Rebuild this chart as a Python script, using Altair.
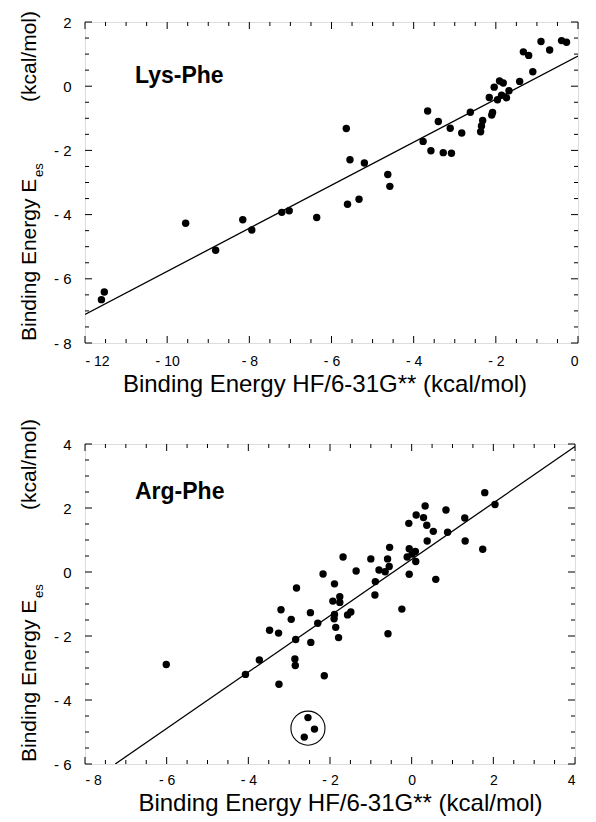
import altair as alt
import pandas as pd

FONT = "Liberation Sans"

# ---- Lys-Phe panel data ----
lys_x = [-11.60, -11.53, -9.55, -8.82, -8.16, -7.94, -7.21, -7.03, -6.36, -5.61,
         -5.33, -4.58, -4.63, -5.64, -5.55, -5.20, -3.77, -3.66, -3.58, -3.40,
         -3.28, -3.08, -3.11, -2.83, -2.62, -2.37, -2.35, -2.32, -2.16, -2.10,
         -2.08, -2.04, -1.96, -1.91, -1.82, -1.86, -1.74, -1.68, -1.42, -1.33,
         -1.20, -1.10, -0.90, -0.69, -0.40, -0.28]
lys_y = [-6.65, -6.41, -4.27, -5.11, -4.16, -4.48, -3.93, -3.88, -4.09, -3.68,
         -3.52, -3.12, -2.75, -1.32, -2.29, -2.39, -1.72, -0.77, -2.01, -1.10,
         -2.07, -2.09, -1.31, -1.46, -0.81, -1.42, -1.24, -1.07, -0.35, -0.90,
         -0.82, -0.03, -0.42, 0.16, 0.10, -0.28, -0.36, -0.14, 0.15, 1.07,
         0.96, 0.45, 1.39, 1.13, 1.42, 1.37]
lys_fit_x = [-12.0, 0.0]
lys_fit_y = [-7.11, 0.94]

# ---- Arg-Phe panel data ----
arg_x = [1.79, 2.04, 0.33, 0.84, 0.11, 0.29, -0.07, 0.37, 0.53, 0.88,
         1.30, 1.31, 0.38, 1.74, -0.54, -0.06, 0.09, 0.01, -0.11, 0.10,
         -1.00, -0.59, -1.68, -1.36, -0.80, -0.55, -0.65, -0.06, -2.17, -1.89,
         -0.89, 0.59, -2.82, -0.90, -1.76, -1.93, -1.76, -3.20, -2.48, -1.49,
         -1.57, -1.89, -1.90, -2.95, -2.30, -0.24, -1.86, -3.48, -3.26, -0.58,
         -1.79, -2.84, -2.47, -3.73, -2.86, -2.85, -6.01, -4.07, -2.14, -3.25,
         -2.54, -2.38, -2.63]
arg_y = [2.48, 2.11, 2.06, 1.94, 1.78, 1.70, 1.52, 1.46, 1.27, 1.24,
         1.69, 0.97, 0.97, 0.71, 0.77, 0.73, 0.64, 0.56, 0.47, 0.33,
         0.41, 0.41, 0.47, 0.03, 0.06, 0.17, 0.01, -0.07, -0.06, -0.37,
         -0.30, -0.23, -0.50, -0.72, -0.77, -0.91, -0.95, -1.18, -1.27, -1.25,
         -1.34, -1.33, -1.46, -1.48, -1.60, -1.16, -1.73, -1.82, -1.91, -1.93,
         -2.05, -2.11, -2.20, -2.75, -2.72, -2.92, -2.89, -3.20, -3.24, -3.51,
         -4.55, -4.91, -5.16]
arg_fit_x = [-7.26, 4.0]
arg_fit_y = [-6.0, 3.92]
arg_circle_x = [-2.54]
arg_circle_y = [-4.88]

# axis ranges / ticks
lys_xdom = [-12, 0]
lys_ydom = [-8, 2]
arg_xdom = [-8, 4]
arg_ydom = [-6, 4]

LABEL_EXPR = "datum.value < 0 ? '- ' + format(-datum.value, 'd') : format(datum.value, 'd')"
XTITLE = "Binding Energy HF/6-31G**  (kcal/mol)"


def steps(lo, hi, step):
    n = int(round((hi - lo) / step))
    return [lo + i * step for i in range(n + 1)]


def panel(px, py, fx, fy, xdom, ydom, name, W, H, title_dx, name_y, kcal_y,
          lab_pad, circle=None):
    xs = alt.Scale(domain=xdom, nice=False, zero=False)
    ys = alt.Scale(domain=ydom, nice=False, zero=False)
    majors_x = steps(xdom[0], xdom[1], 2)
    majors_y = steps(ydom[0], ydom[1], 2)
    minors_x = [v for v in steps(xdom[0], xdom[1], 0.5) if abs(v - round(v / 2) * 2) > 1e-6]
    minors_y = [v for v in steps(ydom[0], ydom[1], 0.5) if abs(v - round(v / 2) * 2) > 1e-6]

    xaxis = alt.Axis(values=majors_x, labelExpr=LABEL_EXPR, ticks=False, domain=False,
                     grid=False, labelFontSize=14, labelPadding=lab_pad, labelFont=FONT,
                     labelColor="black", title=XTITLE, titleFont=FONT,
                     titleFontSize=24, titleFontWeight="normal", titleColor="black",
                     titlePadding=4, titleX=W / 2 + title_dx)
    yaxis = alt.Axis(values=majors_y, labelExpr=LABEL_EXPR, ticks=False, domain=False,
                     grid=False, labelFontSize=15, labelPadding=14, labelFont=FONT,
                     labelColor="black", title=None)

    def X(f):
        return alt.X(f, scale=xs, axis=xaxis, title=XTITLE)

    def Y(f):
        return alt.Y(f, scale=ys, axis=yaxis, title=None)

    pts = pd.DataFrame({"x": px, "y": py})
    base = alt.Chart(pts).mark_circle(size=55, color="black", opacity=1).encode(
        x=X("x:Q"), y=Y("y:Q"))
    fit = alt.Chart(pd.DataFrame({"x": fx, "y": fy})).mark_line(
        color="black", strokeWidth=1.3, clip=True).encode(x=X("x:Q"), y=Y("y:Q"))

    layers = [base, fit]

    def xt(vals, L):
        d = pd.DataFrame({"v": vals})
        b = alt.Chart(d).mark_rule(color="black", strokeWidth=1)
        return [
            b.encode(x=X("v:Q"), y=alt.value(H), y2=alt.value(H - L)),
            b.encode(x=X("v:Q"), y=alt.value(0), y2=alt.value(L)),
        ]

    def yt(vals, L):
        d = pd.DataFrame({"v": vals})
        b = alt.Chart(d).mark_rule(color="black", strokeWidth=1)
        return [
            b.encode(y=Y("v:Q"), x=alt.value(0), x2=alt.value(L)),
            b.encode(y=Y("v:Q"), x=alt.value(W), x2=alt.value(W - L)),
        ]

    layers += xt(majors_x, 7) + xt(minors_x, 4) + yt(majors_y, 7) + yt(minors_y, 4)

    if circle is not None:
        layers.append(alt.Chart(pd.DataFrame({"x": circle[0], "y": circle[1]})).mark_point(
            shape="circle", size=1160, color="black", filled=False, strokeWidth=1.1, opacity=1).encode(
            x=X("x:Q"), y=Y("y:Q")))

    layers.append(alt.Chart(pd.DataFrame({"t": [name]})).mark_text(
        font=FONT, fontSize=23, fontWeight="bold", align="left", baseline="alphabetic",
        color="black").encode(text="t:N", x=alt.value(50), y=alt.value(name_y)))

    # y-axis title pieces
    layers.append(alt.Chart(pd.DataFrame({"t": ["Binding Energy E"]})).mark_text(
        font=FONT, fontSize=21, angle=270, align="left", baseline="middle", color="black").encode(
        text="t:N", x=alt.value(-55), y=alt.value(H - 2)))
    layers.append(alt.Chart(pd.DataFrame({"t": ["es"]})).mark_text(
        font=FONT, fontSize=13, angle=270, align="left", baseline="middle", color="black").encode(
        text="t:N", x=alt.value(-46), y=alt.value(H - 2 - 164)))
    layers.append(alt.Chart(pd.DataFrame({"t": ["(kcal/mol)"]})).mark_text(
        font=FONT, fontSize=21, angle=270, align="left", baseline="middle", color="black").encode(
        text="t:N", x=alt.value(-55), y=alt.value(kcal_y)))

    return alt.layer(*layers).properties(width=W, height=H)


top = panel(lys_x, lys_y, lys_fit_x, lys_fit_y, lys_xdom, lys_ydom, "Lys-Phe", 493, 321,
            -7, 61, 80, 11)
bottom = panel(arg_x, arg_y, arg_fit_x, arg_fit_y, arg_xdom, arg_ydom, "Arg-Phe", 490, 320,
               10, 55, 66, 9, circle=(arg_circle_x, arg_circle_y))

chart = alt.vconcat(top, bottom, spacing=101, bounds="flush").properties(
    padding={"left": 10, "top": 2, "right": 5, "bottom": 0}
).configure_view(stroke="black", strokeWidth=1.3).configure(background="white")

chart.save("out.html", embed_options={"renderer": "svg", "actions": False})
